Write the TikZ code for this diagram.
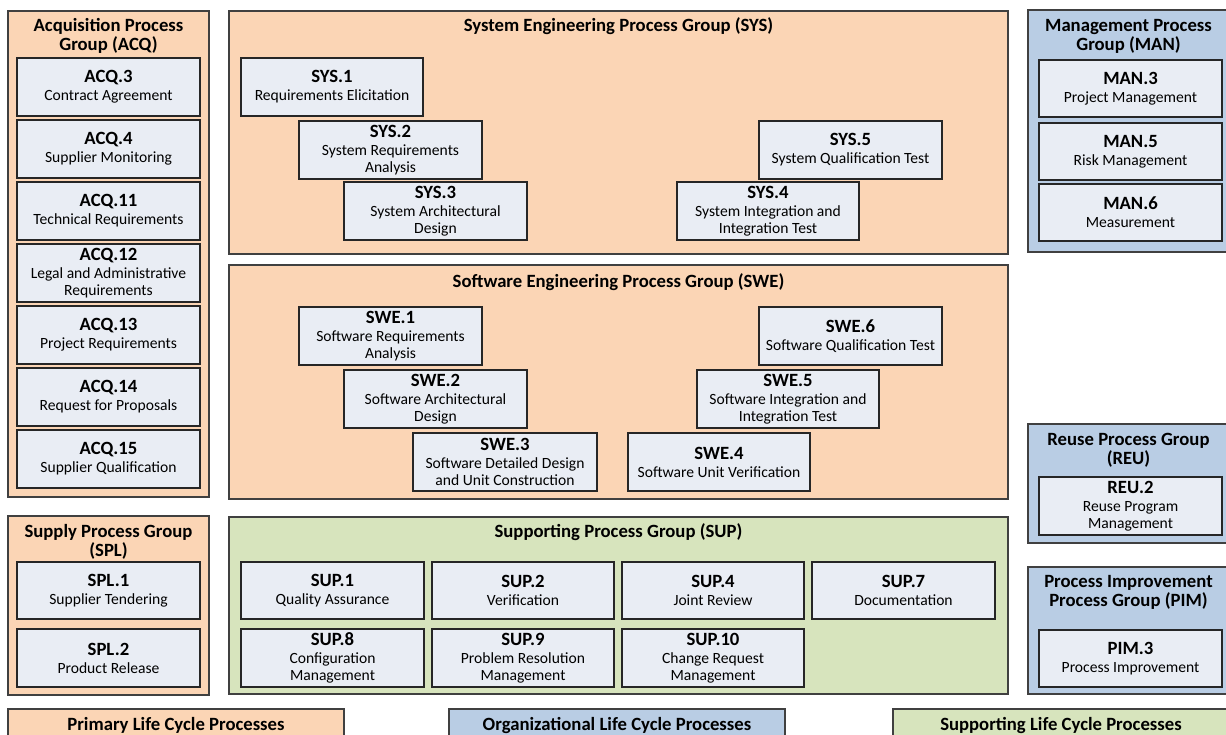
\documentclass[tikz,border=0pt]{standalone}
\usepackage{fontspec}
\setmainfont{Carlito}
\definecolor{orfill}{HTML}{FBD5B5}
\definecolor{blfill}{HTML}{B9CDE4}
\definecolor{grfill}{HTML}{D7E4BD}
\definecolor{bxfill}{HTML}{E9EDF4}
\definecolor{bord}{HTML}{404040}
\definecolor{bxbord}{HTML}{262626}
\newcommand\descfont{\fontsize{15.6}{16.5}\selectfont}
\newcommand\ttlfont{\bfseries\fontsize{18.7}{19.5}\selectfont}
\tikzset{
  grpbox/.style={draw=bord, line width=1.3pt, inner sep=0pt},
  procbox/.style={draw=bxbord, fill=bxfill, line width=1.2pt, align=center, inner sep=0pt, font=\descfont},
  gtitle/.style={font=\ttlfont, align=center, inner sep=0pt, anchor=base},
}
% name, x1, y1, x2, y2, fill
\newcommand\grp[6]{\node[grpbox, fill=#6, minimum width={(#4-#2)*1pt}, minimum height={(#5-#3)*1pt}] (#1) at ({(#2+#4)/2},{(#3+#5)/2}) {};}
% name, x1, y1, x2, y2, code, description
\newcommand\pbx[7]{\node[procbox, minimum width={(#4-#2)*1pt}, minimum height={(#5-#3)*1pt}] (#1) at ({(#2+#4)/2},{(#3+#5)/2}) {{\ttlfont #6}\\[1.5pt]#7};}
\begin{document}
\begin{tikzpicture}[x=1pt,y=-1pt]
\useasboundingbox (0,0) rectangle (1226,734);
\clip (0,0) rectangle (1226,734);
\fill[white] (0,0) rectangle (1226,734);

% ---------- groups ----------
\grp{acq}{8}{11}{209}{497}{orfill}
\grp{sys}{229}{11}{1008}{254}{orfill}
\grp{swe}{229}{265}{1008}{499}{orfill}
\grp{man}{1028}{10}{1229}{252}{blfill}
\grp{spl}{8}{516}{209}{695}{orfill}
\grp{sup}{229}{517}{1008}{694}{grfill}
\grp{reu}{1028}{424}{1229}{543}{blfill}
\grp{pim}{1028}{567}{1229}{694}{blfill}
\grp{legP}{8}{709}{344}{750}{orfill}
\grp{legO}{449}{709}{785}{750}{blfill}
\grp{legS}{893}{709}{1229}{750}{grfill}

% ---------- group titles (base = last line) ----------
\node[gtitle] (acqT) at (108.5,50.5) {Acquisition Process\\Group (ACQ)};
\node[gtitle] (sysT) at (618.5,31) {System Engineering Process Group (SYS)};
\node[gtitle] (sweT) at (618.5,287) {Software Engineering Process Group (SWE)};
\node[gtitle] (manT) at (1128.5,50.5) {Management Process\\Group (MAN)};
\node[gtitle] (splT) at (108.5,556.5) {Supply Process Group\\(SPL)};
\node[gtitle] (supT) at (618.5,537) {Supporting Process Group (SUP)};
\node[gtitle] (reuT) at (1128.5,464.5) {Reuse Process Group\\(REU)};
\node[gtitle] (pimT) at (1128.5,606.5) {Process Improvement\\Process Group (PIM)};
\node[gtitle] (legPT) at (176,730) {Primary Life Cycle Processes};
\node[gtitle] (legOT) at (617,730) {Organizational Life Cycle Processes};
\node[gtitle] (legST) at (1061,730) {Supporting Life Cycle Processes};

% ---------- ACQ ----------
\pbx{acq3}{17}{58}{200}{116}{ACQ.3}{Contract Agreement}
\pbx{acq4}{17}{120}{200}{178}{ACQ.4}{Supplier Monitoring}
\pbx{acq11}{17}{182}{200}{240}{ACQ.11}{Technical Requirements}
\pbx{acq12}{17}{244}{200}{302}{ACQ.12}{Legal and Administrative\\Requirements}
\pbx{acq13}{17}{306}{200}{364}{ACQ.13}{Project Requirements}
\pbx{acq14}{17}{368}{200}{426}{ACQ.14}{Request for Proposals}
\pbx{acq15}{17}{430}{200}{488}{ACQ.15}{Supplier Qualification}

% ---------- SYS ----------
\pbx{sys1}{241}{58}{423}{116}{SYS.1}{Requirements Elicitation}
\pbx{sys2}{299}{121}{482}{179}{SYS.2}{System Requirements\\Analysis}
\pbx{sys3}{344}{182}{527}{240}{SYS.3}{System Architectural\\Design}
\pbx{sys5}{759}{121}{942}{179}{SYS.5}{System Qualification Test}
\pbx{sys4}{677}{182}{859}{240}{SYS.4}{System Integration and\\Integration Test}

% ---------- SWE ----------
\pbx{swe1}{299}{307}{482}{365}{SWE.1}{Software Requirements\\Analysis}
\pbx{swe2}{344}{370}{527}{428}{SWE.2}{Software Architectural\\Design}
\pbx{swe3}{413}{433}{597}{491}{SWE.3}{Software Detailed Design\\and Unit Construction}
\pbx{swe6}{759}{307}{942}{365}{SWE.6}{Software Qualification Test}
\pbx{swe5}{697}{370}{879}{428}{SWE.5}{Software Integration and\\Integration Test}
\pbx{swe4}{628}{433}{810}{491}{SWE.4}{Software Unit Verification}

% ---------- MAN ----------
\pbx{man3}{1039}{60}{1222}{117}{MAN.3}{Project Management}
\pbx{man5}{1039}{123}{1222}{180}{MAN.5}{Risk Management}
\pbx{man6}{1039}{184}{1222}{241}{MAN.6}{Measurement}

% ---------- SPL ----------
\pbx{spl1}{17}{562}{200}{619}{SPL.1}{Supplier Tendering}
\pbx{spl2}{17}{629}{200}{687}{SPL.2}{Product Release}

% ---------- SUP ----------
\pbx{sup1}{241}{562}{424}{619}{SUP.1}{Quality Assurance}
\pbx{sup2}{432}{562}{614}{619}{SUP.2}{Verification}
\pbx{sup4}{622}{562}{804}{619}{SUP.4}{Joint Review}
\pbx{sup7}{812}{562}{995}{619}{SUP.7}{Documentation}
\pbx{sup8}{241}{629}{424}{687}{SUP.8}{Configuration\\Management}
\pbx{sup9}{432}{629}{614}{687}{SUP.9}{Problem Resolution\\Management}
\pbx{sup10}{622}{629}{804}{687}{SUP.10}{Change Request\\Management}

% ---------- REU / PIM ----------
\pbx{reu2}{1039}{477}{1222}{535}{REU.2}{Reuse Program\\Management}
\pbx{pim3}{1039}{630}{1222}{687}{PIM.3}{Process Improvement}
\end{tikzpicture}
\end{document}
